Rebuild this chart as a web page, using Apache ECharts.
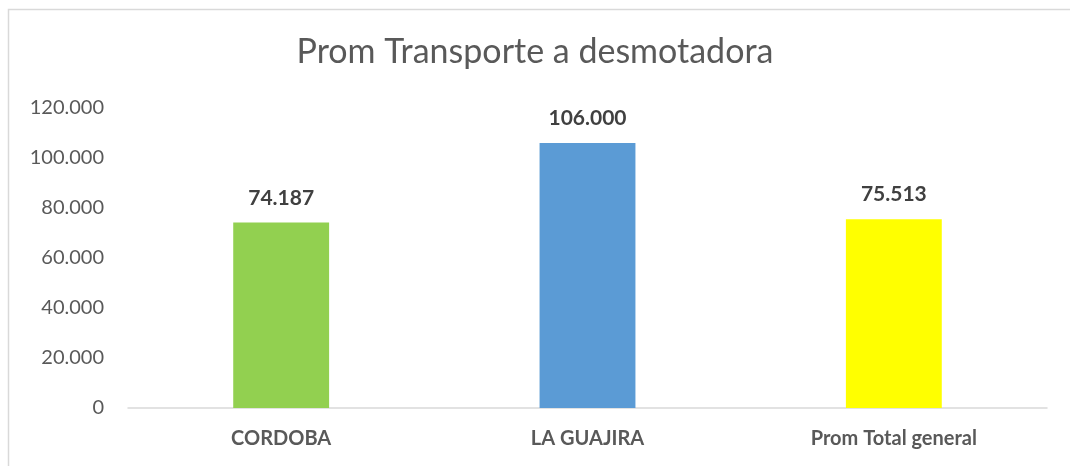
<!DOCTYPE html>
<html><head><meta charset="utf-8">
<script src="https://cdn.jsdelivr.net/npm/echarts@6/dist/echarts.min.js"></script>
<style>html,body{margin:0;padding:0;background:#fff}#c{width:1070px;height:466px}</style>
</head><body><div id="c"></div>
<script>
const categories = ['CORDOBA', 'LA GUAJIRA', 'Prom Total general'];
const values = [74187, 106000, 75513];
const barColors = ['#92D050', '#5B9BD5', '#FFFF00'];
const chartTitle = 'Prom Transporte a desmotadora';

function fmt(v){ return String(Math.round(v)).replace(/\B(?=(\d{3})+(?!\d))/g, '.'); }

const font = 'Lato, "Open Sans", sans-serif';
const chart = echarts.init(document.getElementById('c'), null, {renderer:'canvas'});
chart.setOption({
  animation: false,
  textStyle: {fontFamily: font},
  graphic: [{type:'rect', shape:{x:8.5,y:9.5,width:1200,height:600}, style:{fill:'none', stroke:'#d9d9d9', lineWidth:1.5}, silent:true}],
  title: {text: chartTitle, left: 'center', top: 30, textStyle:{fontFamily:font, fontSize:34, fontWeight:'normal', color:'#595959'}},
  grid: {left:128, right:23, top:108, bottom:58, containLabel:false},
  xAxis: {type:'category', data: categories,
    axisLine:{lineStyle:{color:'#d9d9d9', width:1.5}}, axisTick:{show:false},
    axisLabel:{fontFamily:font, fontSize:20, fontWeight:'bold', color:'#595959', margin:21}},
  yAxis: {type:'value', min:0, max:120000, interval:20000,
    axisLine:{show:false}, axisTick:{show:false}, splitLine:{show:false},
    axisLabel:{fontFamily:font, fontSize:20, color:'#595959', margin:24, formatter: v => fmt(v)}},
  series: [{type:'bar', barWidth:'31.3%',
    data: values.map((v,i)=>({value:v, itemStyle:{color:barColors[i]}})),
    label:{show:true, position:'top', distance:14, fontFamily:font, fontSize:21, fontWeight:'bold', color:'#404040', formatter: p => fmt(p.value)}}]
});
</script></body></html>
